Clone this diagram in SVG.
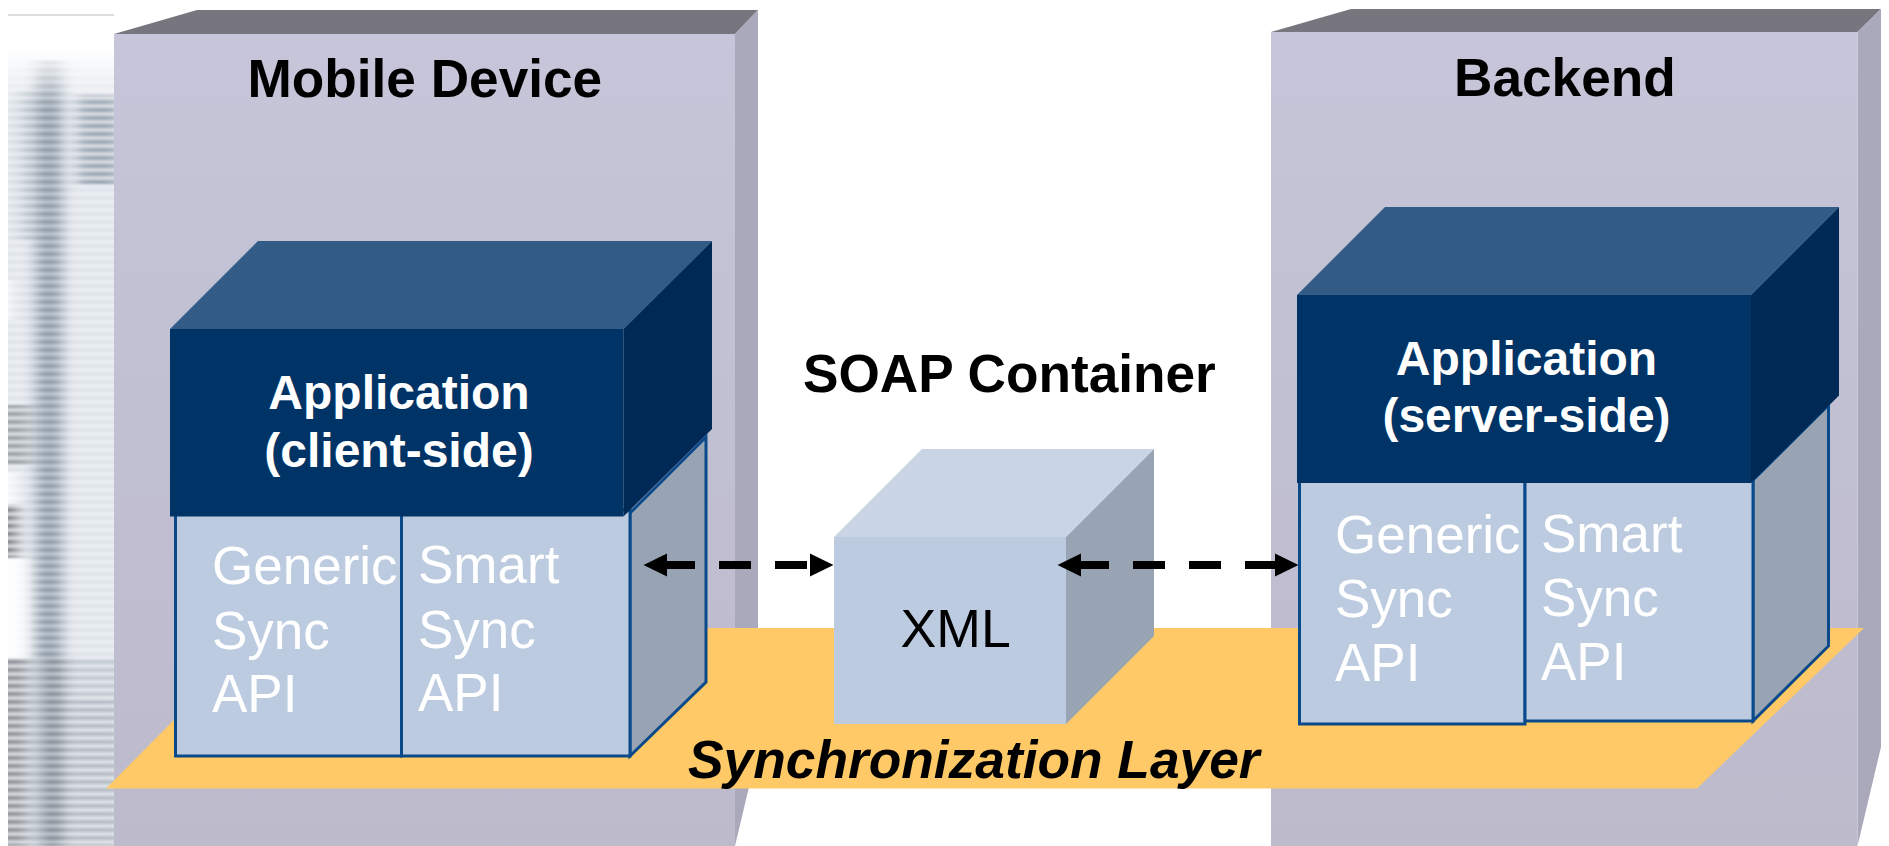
<svg xmlns="http://www.w3.org/2000/svg" width="1889" height="846" viewBox="0 0 1889 846">
<style>
text{font-family:"Liberation Sans",Arial,sans-serif}
.title{font-size:53.2px;font-weight:700;fill:#000}
.app{font-size:48px;font-weight:700;fill:#fff;text-anchor:middle}
.api{font-size:53px;fill:#fff}
.slabF{fill:url(#slab)}.slabS{fill:#aaa9bc}.slabT{fill:#77767f}
.appF{fill:#003366}.appT{fill:#325c85}.appS{fill:#002a55}
.apiF{fill:#bccbdf;stroke:#0a4a8a;stroke-width:3}
.apiS{fill:#98a4b4;stroke:#0a4a8a;stroke-width:3;stroke-linejoin:miter}
.link{fill:none;stroke:#000;stroke-width:8}
</style>
<defs>
<linearGradient id="slab" x1="0" y1="0" x2="0" y2="1"><stop offset="0" stop-color="#c6c5d9"/><stop offset="1" stop-color="#bcbacb"/></linearGradient>
<linearGradient id="fade" x1="0" y1="0" x2="0" y2="1"><stop offset="0" stop-color="#fff"/><stop offset=".35" stop-color="#fff"/><stop offset="1" stop-color="#fff" stop-opacity="0"/></linearGradient>
<linearGradient id="stripe" x1="0" y1="0" x2="0" y2="1"><stop offset="0" stop-color="#4a4a4a"/><stop offset=".5" stop-color="#fff"/><stop offset="1" stop-color="#4a4a4a"/></linearGradient>
<pattern id="rows" width="106" height="8" patternUnits="userSpaceOnUse" y="2"><rect width="106" height="8" fill="url(#stripe)"/></pattern>
<mask id="rowMask" maskUnits="userSpaceOnUse" x="8" y="14" width="106" height="832"><rect x="8" y="14" width="106" height="832" fill="url(#rows)"/></mask>
<clipPath id="stripClip"><rect x="8" y="14" width="106" height="832"/></clipPath>
<filter id="hblur" filterUnits="userSpaceOnUse" x="-40" y="0" width="200" height="846" color-interpolation-filters="sRGB"><feGaussianBlur stdDeviation="7 0.800"/></filter>
<marker id="head" markerUnits="userSpaceOnUse" markerWidth="24" markerHeight="24" refX="0" refY="12" orient="auto-start-reverse"><path d="M0 0.5L23.5 12L0 23.500Z" fill="#000"/></marker>
</defs>

<g id="backdrop-strip" clip-path="url(#stripClip)">
<rect x="8" y="14" width="106" height="832" fill="#f1f3f7"/>
<g filter="url(#hblur)">
<rect x="36" y="60" width="26" height="786" fill="#c8d2dc"/>
</g>
<g mask="url(#rowMask)">
<g filter="url(#hblur)">
<rect x="-20" y="14" width="170" height="832" fill="#dfe4ea"/>
<rect x="36" y="60" width="26" height="786" fill="#8d98a5"/>
<rect x="78" y="95" width="40" height="90" fill="#9aa5b1"/>
<rect x="20" y="90" width="14" height="150" fill="#bcc6ce"/>
<rect x="-20" y="405" width="50" height="60" fill="#9aa2a6"/>
<rect x="-20" y="505" width="38" height="54" fill="#7d8083"/>
<rect x="-20" y="658" width="170" height="188" fill="#c2c9d0"/>
<rect x="-20" y="658" width="46" height="188" fill="#8f9297"/>
<rect x="42" y="658" width="22" height="188" fill="#868c94"/>
<rect x="70" y="700" width="48" height="146" fill="#b4bbc4"/>
</g>
</g>
<g filter="url(#hblur)">
<rect x="-20" y="558" width="46" height="100" fill="#fff" opacity=".9"/>
<rect x="-20" y="472" width="36" height="32" fill="#fff" opacity=".8"/>
<rect x="-20" y="280" width="30" height="40" fill="#fff" opacity=".8"/>
</g>
<rect x="8" y="16" width="106" height="90" fill="url(#fade)"/>
<rect x="8" y="14" width="106" height="2" fill="#dcdcdc"/>
</g>

<g id="mobile-device">
<polygon class="slabT" points="114,34 197,10 758,10 735,34"/>
<polygon class="slabS" points="735,34 758,10 758,749 735,846"/>
<rect class="slabF" x="114" y="34" width="621" height="812"/>
<text class="title" x="247.500" y="97">Mobile Device</text>
</g>

<g id="backend">
<polygon class="slabT" points="1271,32 1351,9 1881,9 1857.500,32"/>
<polygon class="slabS" points="1857.500,32 1881,9 1881,747 1857.500,846"/>
<rect class="slabF" x="1271" y="32" width="586.500" height="814"/>
<text class="title" x="1454" y="96">Backend</text>
</g>

<g id="synchronization-layer">
<polygon fill="#fec966" points="106,788.500 265,628 1864,628 1697,788.500"/>
<text x="688" y="777.500" font-size="53.300" font-weight="700" font-style="italic" fill="#000">Synchronization Layer</text>
</g>

<g id="xml-container">
<text class="title" x="803" y="392">SOAP Container</text>
<polygon fill="#c9d5e5" points="834,537 922,449 1154,449 1066,537"/>
<polygon fill="#98a4b4" points="1066,537 1154,449 1154,636 1066,724"/>
<rect x="834" y="537" width="232" height="187" fill="#bccbdf"/>
<text x="900.500" y="647" font-size="53.600" fill="#000">XML</text>
</g>

<g id="client-api">
<polygon class="apiS" points="630,513 706,437 706,682 630,756"/>
<rect class="apiF" x="175.500" y="510" width="226" height="246"/>
<rect class="apiF" x="401.500" y="510" width="228.500" height="246"/>
<text class="api"><tspan x="212" y="584">Generic</tspan><tspan x="212" y="649">Sync</tspan><tspan x="212" y="712">API</tspan></text>
<text class="api"><tspan x="418" y="583">Smart</tspan><tspan x="418" y="648">Sync</tspan><tspan x="418" y="711">API</tspan></text>
</g>

<g id="client-application">
<polygon class="appT" points="170,329 258,241 712,241 623.500,329"/>
<polygon class="appS" points="623.500,329 712,241 712,429 623.500,516.500"/>
<rect class="appF" x="170" y="329" width="453.500" height="187.500"/>
<text class="app" x="399" y="409">Application</text>
<text class="app" x="399" y="466.500">(client-side)</text>
</g>

<g id="server-api">
<polygon class="apiS" points="1753,480 1828.500,405 1828.500,646 1753,721"/>
<rect class="apiF" x="1299.500" y="478" width="225.500" height="246"/>
<rect class="apiF" x="1525" y="478" width="228" height="243"/>
<text class="api"><tspan x="1335" y="553">Generic</tspan><tspan x="1335" y="617">Sync</tspan><tspan x="1335" y="681">API</tspan></text>
<text class="api"><tspan x="1541" y="551.500">Smart</tspan><tspan x="1541" y="616">Sync</tspan><tspan x="1541" y="679.500">API</tspan></text>
</g>

<g id="server-application">
<polygon class="appT" points="1297,295 1385,207 1839,207 1751,295"/>
<polygon class="appS" points="1751,295 1839,207 1839,395.500 1751,483"/>
<rect class="appF" x="1297" y="295" width="454" height="188"/>
<text class="app" x="1526.500" y="375">Application</text>
<text class="app" x="1526.500" y="432">(server-side)</text>
</g>

<g id="connectors">
<line class="link" x1="667" y1="565" x2="810" y2="565" stroke-dasharray="28 24 32 24 32 3" marker-start="url(#head)" marker-end="url(#head)"/>
<line class="link" x1="1081" y1="565" x2="1275" y2="565" stroke-dasharray="28 24 32 24 32 24 30" marker-start="url(#head)" marker-end="url(#head)"/>
</g>
</svg>
